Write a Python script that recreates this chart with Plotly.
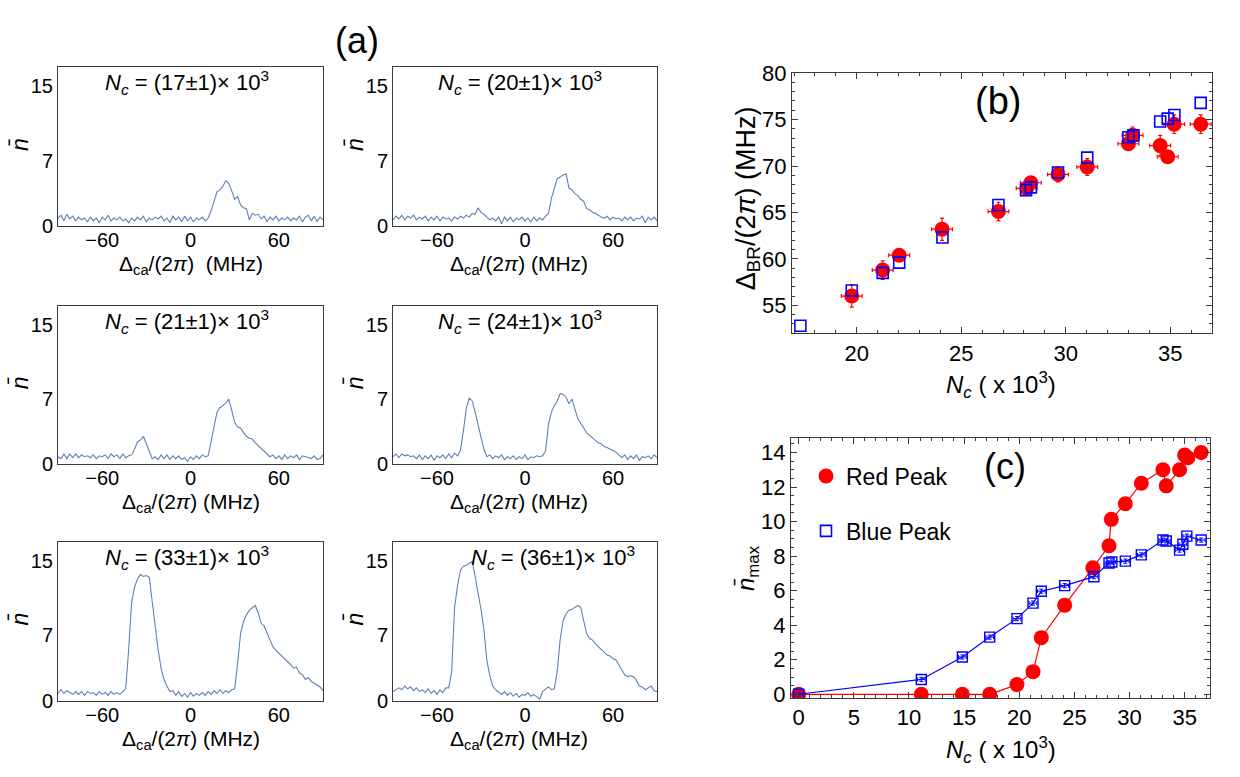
import numpy as np
import plotly.graph_objects as go

W, H = 1240, 777

# ---------------- panel (a): cavity transmission spectra ----------------
# detuning grid, -90 ... 90 MHz in 2 MHz steps (91 samples)
detuning = np.arange(-90, 91, 2)

spec_17 = [
    0.9, 1.2, 0.6, 1.3, 0.8, 1.1, 0.6, 1.0, 0.7, 0.9,
    0.5, 1.0, 0.6, 0.9, 0.4, 1.0, 0.7, 1.2, 0.6, 0.9,
    0.7, 1.0, 0.6, 0.8, 0.4, 0.9, 0.6, 1.0, 0.7, 1.1,
    0.5, 0.9, 0.7, 1.0, 0.8, 1.1, 0.6, 0.9, 0.4, 1.1,
    0.7, 1.0, 0.5, 1.1, 0.6, 1.0, 0.5, 0.9, 0.7, 1.0,
    0.6, 0.9, 1.7, 2.7, 3.7, 3.9, 4.3, 4.9, 4.6, 3.8,
    2.9, 3.2, 2.3, 2.0, 1.9, 0.7, 1.4, 1.2, 1.3, 0.8,
    1.1, 0.5, 1.0, 0.7, 1.1, 0.6, 0.9, 0.7, 1.0, 0.6,
    0.9, 0.7, 1.1, 0.5, 1.0, 1.2, 0.6, 1.1, 0.5, 1.0,
    0.7,
]
spec_20 = [
    0.7, 1.1, 0.8, 1.2, 0.7, 1.1, 0.9, 1.2, 0.7, 1.0,
    0.8, 1.1, 0.6, 1.0, 0.7, 1.1, 0.6, 1.0, 0.8, 0.9,
    0.6, 1.0, 0.8, 1.1, 0.9, 1.2, 1.0, 1.4, 1.3, 2.0,
    1.5, 1.3, 1.0, 0.7, 0.9, 0.6, 1.0, 0.3, 1.0, 0.6,
    1.0, 0.5, 0.9, 0.7, 1.0, 0.6, 0.9, 0.5, 1.0, 0.6,
    0.9, 0.7, 1.1, 1.4, 3.0, 4.0, 5.1, 5.3, 5.5, 5.6,
    4.1, 3.9, 3.5, 3.3, 2.9, 2.7, 1.9, 1.8, 1.5, 1.4,
    1.2, 1.0, 0.9, 1.1, 0.7, 1.0, 0.8, 0.9, 0.6, 1.0,
    0.7, 1.0, 0.6, 0.9, 0.8, 1.1, 0.4, 1.0, 0.7, 1.0,
    0.6,
]
spec_21 = [
    0.8, 0.6, 1.1, 0.6, 1.1, 0.7, 1.1, 0.7, 1.0, 0.8,
    0.9, 0.7, 1.0, 0.6, 0.9, 0.8, 1.0, 0.6, 1.1, 0.8,
    1.0, 0.6, 1.1, 0.7, 0.9, 1.0, 1.6, 2.4, 2.6, 3.0,
    2.2, 1.3, 0.6, 0.8, 0.5, 1.0, 0.6, 1.0, 0.5, 0.9,
    0.6, 0.9, 0.5, 0.7, 0.3, 0.8, 0.5, 0.9, 0.6, 1.0,
    0.8, 0.9, 2.4, 3.8, 5.6, 6.1, 6.3, 6.6, 7.0, 5.8,
    4.5, 4.0, 3.9, 3.4, 3.0, 2.8, 2.7, 2.3, 2.0, 1.6,
    1.4, 1.1, 0.8, 1.0, 0.6, 0.9, 0.5, 1.0, 0.6, 0.9,
    0.7, 1.0, 0.5, 0.9, 0.8, 0.7, 0.6, 0.9, 0.5, 0.6,
    1.0,
]
spec_24 = [
    0.8, 1.1, 0.7, 1.1, 0.9, 1.0, 0.8, 0.9, 0.6, 1.0,
    0.5, 0.9, 0.6, 1.0, 0.4, 0.9, 0.7, 1.0, 0.6, 1.1,
    0.7, 1.2, 0.9, 1.5, 3.6, 6.0, 7.1, 6.8, 5.6, 4.1,
    2.9, 1.6, 0.8, 1.0, 0.6, 0.9, 0.7, 1.0, 0.5, 0.8,
    0.6, 0.9, 0.5, 0.8, 0.6, 1.0, 0.5, 0.8, 0.7, 0.9,
    0.8, 0.9, 1.4, 4.3, 5.6, 6.3, 6.8, 7.6, 7.5, 7.2,
    6.5, 7.0, 6.0, 4.9, 4.4, 3.9, 3.4, 3.1, 2.8, 2.6,
    2.3, 2.2, 1.9, 1.8, 1.6, 1.5, 1.3, 1.0, 0.7, 1.0,
    0.5, 0.9, 0.6, 1.0, 0.4, 0.8, 0.7, 0.9, 0.6, 1.0,
    0.7,
]
spec_33 = [
    0.8, 1.2, 0.8, 1.1, 0.9, 0.7, 1.0, 0.7, 1.0, 0.6,
    1.0, 0.8, 0.9, 0.6, 1.0, 0.7, 0.9, 0.6, 1.0, 0.7,
    0.9, 0.7, 1.0, 1.3, 5.5, 10.5, 12.2, 13.0, 13.5, 13.3,
    13.4, 13.2, 10.6, 7.8, 5.5, 3.5, 2.3, 1.6, 1.0, 1.1,
    0.6, 1.0, 0.5, 0.8, 0.4, 0.9, 0.5, 0.8, 0.6, 0.9,
    0.6, 1.0, 0.7, 1.1, 0.8, 1.2, 0.8, 1.1, 0.9, 1.2,
    1.3, 4.0, 7.2, 8.5, 9.2, 9.7, 10.0, 10.2, 9.4, 8.3,
    8.0, 7.3, 6.5, 5.8, 5.4, 5.1, 4.9, 4.5, 4.2, 3.9,
    3.5, 3.6, 3.0, 2.8, 2.3, 2.5, 2.1, 1.9, 1.7, 1.5,
    1.1,
]
spec_36 = [
    1.0, 1.2, 1.4, 1.2, 1.6, 1.3, 1.5, 1.1, 1.4, 1.0,
    1.2, 0.9, 1.3, 0.8, 1.1, 0.7, 1.2, 0.9, 1.4, 1.4,
    3.1, 10.0, 12.3, 14.0, 14.4, 14.5, 14.7, 14.9, 13.3, 11.6,
    9.8, 7.6, 4.3, 2.7, 1.6, 1.2, 0.9, 0.7, 1.0, 0.6,
    0.9, 0.5, 0.8, 0.4, 0.7, 0.6, 0.9, 0.5, 0.7, 0.4,
    0.2, 1.0, 1.3, 1.5, 1.2, 1.3, 3.2, 6.6, 8.6, 9.3,
    9.7, 9.8, 10.0, 10.2, 10.0, 8.4, 7.2, 6.7, 6.5, 6.1,
    5.8, 5.4, 5.2, 4.9, 4.8, 4.5, 4.4, 3.8, 3.3, 2.8,
    2.6, 2.7, 2.6, 2.2, 1.6, 1.5, 1.2, 1.4, 1.6, 1.1,
    1.0,
]
spectra = [spec_17, spec_20, spec_21, spec_24, spec_33, spec_36]
spectra_labels = ["17", "20", "21", "24", "33", "36"]

# ---------------- panel (b): splitting vs atom number ----------------
nc_b_red = [19.76, 21.24, 22.03, 24.08, 26.78, 28.13, 28.33, 29.63, 31.03,
            33.0, 33.2, 34.52, 34.88, 35.19, 36.46]
split_red = [56.0, 58.8, 60.4, 63.2, 65.1, 67.6, 68.2, 69.1, 69.9,
             72.4, 73.3, 72.2, 71.0, 74.5, 74.5]
split_red_err = [1.2, 1.0, 0.5, 1.2, 1.0, 0.6, 0.6, 0.8, 0.9,
                 0.7, 0.9, 1.1, 0.6, 1.0, 1.0]
nc_b_red_err = [0.5] * len(nc_b_red)

nc_b_blue = [17.3, 19.76, 21.24, 22.03, 24.1, 26.78, 28.1, 28.33, 29.63,
             31.03, 33.0, 33.24, 34.52, 34.88, 35.2, 36.46]
split_blue = [52.8, 56.6, 58.5, 59.6, 62.3, 65.8, 67.4, 67.7, 69.3,
              70.9, 73.1, 73.3, 74.8, 75.1, 75.5, 76.8]

# ---------------- panel (c): peak photon number ----------------
nc_c_red = [0, 11.12, 14.84, 17.32, 19.79, 21.25, 22.0, 24.12, 26.68, 28.14,
            28.35, 29.62, 31.07, 33.03, 33.33, 34.54, 35.0, 35.3, 36.5]
nmax_red = [0.0, 0.0, 0.0, 0.0, 0.56, 1.31, 3.28, 5.16, 7.32, 8.6,
            10.13, 11.03, 12.22, 13.0, 12.07, 13.0, 13.85, 13.7, 14.0]

nc_c_blue = [0, 11.12, 14.84, 17.32, 19.79, 21.25, 22.0, 24.12, 26.77, 28.14,
             28.4, 29.62, 31.07, 33.03, 33.33, 34.54, 34.84, 35.2, 36.5]
nmax_blue = [0.0, 0.86, 2.16, 3.31, 4.38, 5.28, 5.97, 6.29, 6.81, 7.6,
             7.66, 7.71, 8.07, 8.93, 8.88, 8.35, 8.69, 9.16, 8.93]
nmax_blue_err = [0.12] * len(nc_c_blue)
nc_c_blue_err = [0.35] * len(nc_c_blue)

RED = "#ff0000"
BLUE = "#0000ff"
LINE_A = "#5e81b5"
FRAME = "#3a3a3a"
FONT = "Liberation Sans, Arial, sans-serif"

# panel boxes in pixels: (left, right, top, bottom)
boxes_a = [
    (58, 323, 57, 221), (393, 657, 57, 221),
    (58, 323, 303, 466), (393, 657, 303, 466),
    (58, 323, 546, 710), (393, 657, 546, 710),
]
box_b = (792, 1212, 63, 331)
box_c = (791, 1210, 439, 707)


def xdom(b):
    return [b[0] / W, b[1] / W]


def ydom(b):
    return [1 - b[3] / H, 1 - b[2] / H]


fig = go.Figure()
layout = {}
annotations = []

for i, (spec, box, lab) in enumerate(zip(spectra, boxes_a, spectra_labels)):
    k = i + 1
    xa = "x" if k == 1 else f"x{k}"
    ya = "y" if k == 1 else f"y{k}"
    fig.add_trace(go.Scatter(
        x=detuning, y=spec, mode="lines", xaxis=xa, yaxis=ya,
        line=dict(color=LINE_A, width=1.1), showlegend=False,
        hoverinfo="skip"))
    layout[f"xaxis{k}"] = dict(
        domain=xdom(box), range=[-90, 90], anchor=ya,
        showline=True, mirror=True, linecolor=FRAME, linewidth=1,
        showgrid=False, zeroline=False, ticks="", ticklabelstandoff=-4,
        tickvals=[-60, 0, 60], ticktext=["\u221260", "0", "60"],
        tickfont=dict(size=20, color="black", family=FONT))
    layout[f"yaxis{k}"] = dict(
        domain=ydom(box), range=[0, 17], anchor=xa,
        showline=True, mirror=True, linecolor=FRAME, linewidth=1,
        showgrid=False, zeroline=False, ticks="",
        tickvals=[0, 7, 15],
        tickfont=dict(size=20, color="black", family=FONT))
    # axis titles
    annotations.append(dict(
        x=(box[0] + box[1]) / 2 / W + (0.0005 if i % 2 == 0 else -0.005),
        y=1 - (box[3] + 40) / H, xref="paper", yref="paper",
        text="\u0394<sub>ca</sub>/(2<i>\u03c0</i>)" + ("  (MHz)" if i == 0 else " (MHz)"),
        showarrow=False, font=dict(size=21, family=FONT, color="black"),
        xanchor="center", yanchor="middle"))
    annotations.append(dict(
        x=(box[0] - 38) / W, y=1 - ((box[2] + box[3]) / 2 - 2) / H,
        xref="paper", yref="paper", text="<i>n\u0304</i>", textangle=-90,
        showarrow=False, font=dict(size=23, family=FONT, color="black"),
        xanchor="center", yanchor="middle"))
    # atom-number label inside each panel
    lx = 187 if i % 2 == 0 else 520
    if i == 5:
        lx = 553
    annotations.append(dict(
        x=lx / W, y=1 - (box[2] + 16) / H, xref="paper", yref="paper",
        text=f"<i>N<sub>c</sub></i> = ({lab}\u00b11)\u00d7 10<sup>3</sup>",
        showarrow=False, font=dict(size=22, family=FONT, color="black"),
        xanchor="center", yanchor="middle"))

# panel (b)
fig.add_trace(go.Scatter(
    x=nc_b_red, y=split_red, mode="markers", xaxis="x7", yaxis="y7",
    marker=dict(symbol="circle", size=15, color=RED),
    error_x=dict(type="data", array=nc_b_red_err, color=RED, thickness=1.2, width=2),
    error_y=dict(type="data", array=split_red_err, color=RED, thickness=1.2, width=2),
    showlegend=False, hoverinfo="skip"))
fig.add_trace(go.Scatter(
    x=nc_b_blue, y=split_blue, mode="markers", xaxis="x7", yaxis="y7",
    marker=dict(symbol="square-open", size=11, color=BLUE, line=dict(width=1.6, color=BLUE)),
    showlegend=False, hoverinfo="skip"))

# panel (c)
fig.add_trace(go.Scatter(
    x=nc_c_red, y=nmax_red, mode="lines+markers", xaxis="x8", yaxis="y8",
    line=dict(color=RED, width=1.2),
    marker=dict(symbol="circle", size=15, color=RED),
    showlegend=False, hoverinfo="skip"))
fig.add_trace(go.Scatter(
    x=nc_c_blue, y=nmax_blue, mode="lines+markers", xaxis="x8", yaxis="y8",
    line=dict(color=BLUE, width=1.2),
    marker=dict(symbol="square-open", size=10, color=BLUE, line=dict(width=1.4, color=BLUE)),
    error_x=dict(type="data", array=nc_c_blue_err, color=BLUE, thickness=1, width=2),
    error_y=dict(type="data", array=nmax_blue_err, color=BLUE, thickness=1, width=2),
    showlegend=False, hoverinfo="skip"))
# legend entries
fig.add_trace(go.Scatter(
    x=[None], y=[None], mode="markers", xaxis="x8", yaxis="y8", name="Red Peak",
    marker=dict(symbol="circle", size=15, color=RED), legendgroup="r"))
fig.add_trace(go.Scatter(
    x=[None], y=[None], mode="markers", xaxis="x8", yaxis="y8", name="Blue Peak",
    marker=dict(symbol="square-open", size=11, color=BLUE, line=dict(width=1.6, color=BLUE)),
    legendgroup="b"))

frame_axis = dict(
    showline=True, mirror="allticks", linecolor=FRAME, linewidth=1,
    showgrid=False, zeroline=False, ticks="inside", ticklen=6, tickwidth=1,
    tickcolor=FRAME, tickfont=dict(size=22, color="black", family=FONT))

layout["xaxis7"] = dict(frame_axis, domain=xdom(box_b), range=[16.9, 37.0], anchor="y7",
                        tickvals=[20, 25, 30, 35],
                        minor=dict(ticks="inside", ticklen=3, dtick=1, tick0=0, tickcolor=FRAME))
layout["yaxis7"] = dict(frame_axis, domain=ydom(box_b), range=[52.0, 80.0], anchor="x7",
                        tickvals=[55, 60, 65, 70, 75, 80],
                        minor=dict(ticks="inside", ticklen=3, dtick=1, tick0=0, tickcolor=FRAME))
layout["xaxis8"] = dict(frame_axis, domain=xdom(box_c), range=[-0.7, 37.3], anchor="y8",
                        tickvals=[0, 5, 10, 15, 20, 25, 30, 35],
                        minor=dict(ticks="inside", ticklen=3, dtick=1, tick0=0, tickcolor=FRAME))
layout["yaxis8"] = dict(frame_axis, domain=ydom(box_c), range=[-0.22, 14.84], anchor="x8",
                        tickvals=[0, 2, 4, 6, 8, 10, 12, 14],
                        minor=dict(ticks="inside", ticklen=3, dtick=0.5, tick0=0, tickcolor=FRAME))

# titles for (b) and (c)
ntitle = "<i>N<sub>c</sub></i> ( x 10<sup>3</sup>)"
annotations += [
    dict(x=1001 / W, y=1 - 384 / H, text=ntitle, font=dict(size=24)),
    dict(x=1001 / W, y=1 - 760 / H, text=ntitle, font=dict(size=24)),
    dict(x=748 / W, y=1 - 192 / H, text="\u0394<sub>BR</sub>/(2<i>\u03c0</i>) (MHz)",
         textangle=-90, font=dict(size=27)),
    dict(x=747 / W, y=1 - 573 / H, text="<i>n\u0304</i><sub>max</sub>", textangle=-90,
         font=dict(size=24)),
]
for a in annotations[-4:]:
    a["font"].update(family=FONT, color="black")
    a.update(xref="paper", yref="paper", showarrow=False,
             xanchor="center", yanchor="middle")

for txt, px, py, sz in [("(a)", 357, 29, 36), ("(b)", 998, 92, 38), ("(c)", 1005, 468, 36)]:
    annotations.append(dict(x=px / W, y=1 - py / H, xref="paper", yref="paper", text=txt,
                            showarrow=False, font=dict(size=sz, family=FONT, color="black"),
                            xanchor="center", yanchor="middle"))

fig.update_layout(
    width=W, height=H, margin=dict(l=0, r=0, t=0, b=0),
    paper_bgcolor="white", plot_bgcolor="white",
    font=dict(family=FONT, color="black"),
    annotations=annotations,
    showlegend=True,
    legend=dict(x=806 / W, y=1 - 456 / H, xanchor="left", yanchor="top",
                bgcolor="rgba(0,0,0,0)", font=dict(size=23, family=FONT, color="black"),
                tracegroupgap=22, traceorder="grouped"),
    **layout)

fig.write_html("out.html")
